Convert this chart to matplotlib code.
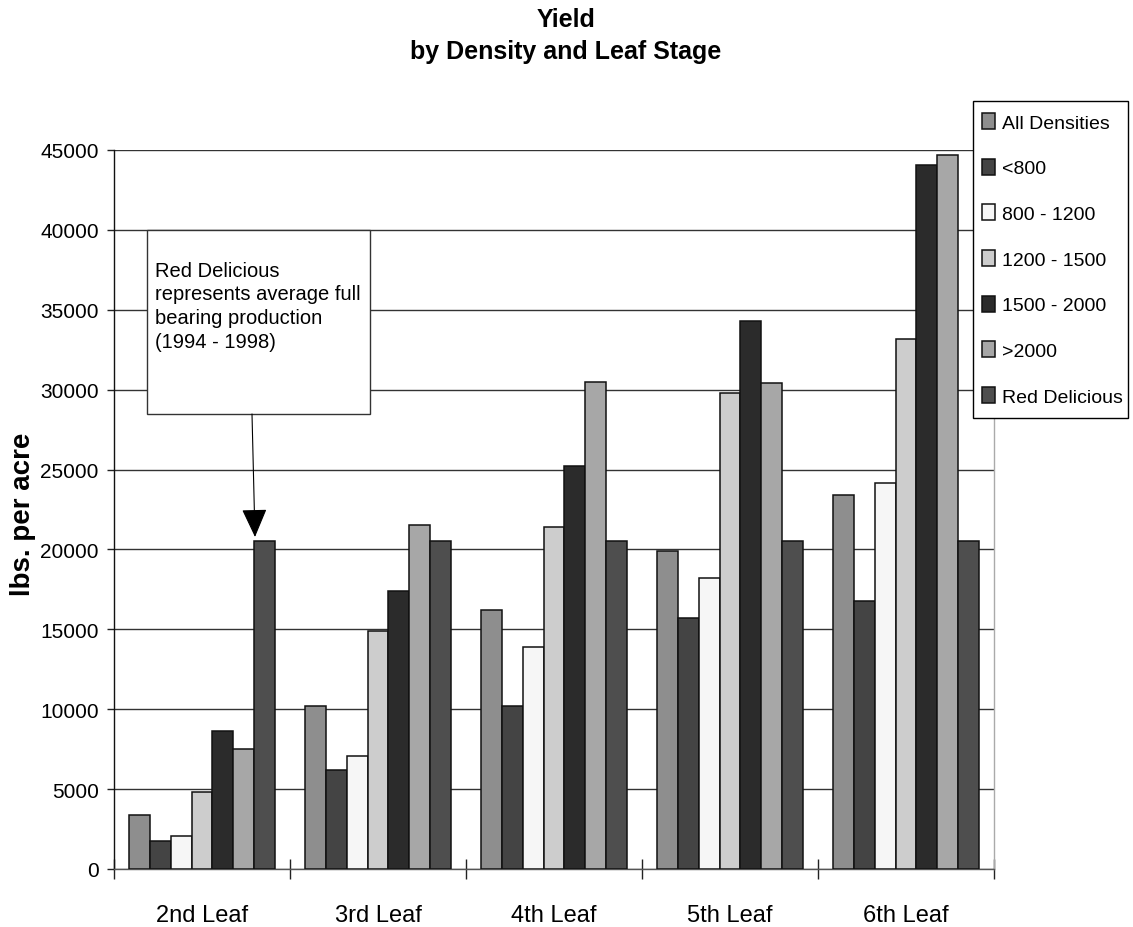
import matplotlib
matplotlib.use("Agg")
import matplotlib.pyplot as plt
import numpy as np
from matplotlib.patches import Rectangle

plt.rcParams['font.family'] = ['Liberation Sans', 'DejaVu Sans']

categories = ["2nd Leaf", "3rd Leaf", "4th Leaf", "5th Leaf", "6th Leaf"]
series_names = ["All Densities", "<800", "800 - 1200", "1200 - 1500",
                "1500 - 2000", ">2000", "Red Delicious"]
all_densities = [3400, 10200, 16200, 19900, 23400]
lt_800 = [1780, 6200, 10200, 15700, 16800]
d800_1200 = [2050, 7100, 13900, 18200, 24150]
d1200_1500 = [4850, 14900, 21400, 29800, 33200]
d1500_2000 = [8650, 17400, 25200, 34300, 44050]
gt_2000 = [7520, 21500, 30450, 30400, 44700]
red_delicious = [20500, 20500, 20500, 20500, 20500]
series_values = [all_densities, lt_800, d800_1200, d1200_1500,
                 d1500_2000, gt_2000, red_delicious]
colors = ["#8e8e8e", "#444444", "#f6f6f6", "#cdcdcd", "#2b2b2b", "#a7a7a7", "#4e4e4e"]

yticks = [0, 5000, 10000, 15000, 20000, 25000, 30000, 35000, 40000, 45000]

fig = plt.figure(figsize=(11.33, 9.28), dpi=100)
ax = fig.add_axes([114/1133, 1-870/928, 880/1133, 719/928])

x = np.arange(len(categories))
n = len(series_names)
bw = 20.8/176
for i, (name, vals, c) in enumerate(zip(series_names, series_values, colors)):
    offs = (i - (n-1)/2) * bw
    ax.bar(x + offs, vals, width=bw, color=c, edgecolor="#111111",
           linewidth=1.1, label=name, zorder=3)

ax.set_xlim(-0.5, len(categories) - 0.5)
ax.set_ylim(0, 45000)
ax.set_yticks(yticks)
ax.set_yticklabels([str(v) for v in yticks], fontsize=15)
ax.set_xticks(x)
ax.set_xticklabels(categories, fontsize=17)
ax.set_xticks(np.arange(len(categories) + 1) - 0.5, minor=True)
ax.tick_params(axis='x', which='major', length=0, pad=25)
ax.tick_params(axis='x', which='minor', length=14, direction='inout', width=1, color='#222222')
ax.tick_params(axis='y', length=5, width=1, pad=6, color='#222222')

ax.yaxis.grid(True, color="#333333", linewidth=1.0, zorder=0)
ax.set_axisbelow(True)
ax.spines['top'].set_visible(False)
ax.spines['right'].set_color('#aaaaaa')
ax.spines['left'].set_color('#111111')
ax.spines['bottom'].set_color('#555555')
for s in ax.spines.values():
    s.set_linewidth(1.0)

ax.set_ylabel("lbs. per acre", fontsize=20, fontweight='bold')
ax.yaxis.set_label_coords(-0.0886, 0.495)

fig.text(0.4996, 1-8/928, "Yield\nby Density and Leaf Stage", ha='center', va='top',
         fontsize=18, fontweight='bold', linespacing=1.4)

# annotation box
box = Rectangle((33/880, (870-415)/719), 223/880, 184/719, transform=ax.transAxes,
                facecolor='white', edgecolor='#333333', linewidth=1.0, zorder=4)
ax.add_patch(box)
ax.text(41/880, (870-262)/719,
        "Red Delicious\nrepresents average full\nbearing production\n(1994 - 1998)",
        transform=ax.transAxes, ha='left', va='top', fontsize=14.5,
        linespacing=1.3, zorder=5)
ax.annotate('', xy=(141/880, (870-538)/719), xytext=(138/880, (870-415)/719),
            xycoords='axes fraction', textcoords='axes fraction',
            arrowprops=dict(arrowstyle='-|>,head_length=18,head_width=8',
                            mutation_scale=1, color='black', lw=0.8,
                            shrinkA=0, shrinkB=0), zorder=6)

# legend frame drawn separately
frame = Rectangle((973/1133, 1-419/928), 155/1133, 317/928, transform=fig.transFigure,
                  facecolor='white', edgecolor='black', linewidth=1.0, zorder=5)
fig.patches.append(frame)
leg = fig.legend(loc='upper left', bbox_to_anchor=(982/1133, 1-114/928),
                 bbox_transform=fig.transFigure, fontsize=14, frameon=False,
                 borderaxespad=0, borderpad=0, handlelength=0.68,
                 handleheight=0.88, handletextpad=0.35, labelspacing=1.39)
leg.set_zorder(6)

fig.savefig("out.png", dpi=100, facecolor='white')
